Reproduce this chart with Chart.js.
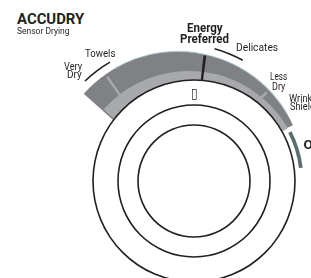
<!DOCTYPE html>
<html>
<head>
<meta charset="utf-8">
<script src="https://cdn.jsdelivr.net/npm/chart.js@4.4.1/dist/chart.umd.min.js"></script>
<style>
  html, body { margin: 0; padding: 0; background: #ffffff; }
  body { position: relative; width: 311px; height: 278px; overflow: hidden; }
  canvas { position: absolute; }
  .lbl { position: absolute; white-space: nowrap; line-height: 1; color: #231f20; transform-origin: 0 0; }
</style>
</head>
<body>
<script>
// ---------------- data (angles in degrees, clockwise from 12 o'clock) ----------------
const titleText = 'ACCUDRY';
const subtitleText = 'Sensor Drying';
const cycleLabels = [['Very', 'Dry'], ['Towels'], ['Energy', 'Preferred'], ['Delicates'], ['Less', 'Dry'], ['Wrinkle', 'Shield']];
const offLabel = 'Off';
const pointerGlyph = '\u25AF';

const bandSpan = [-48.2, 65.3];          // dark sensor-dry band
const edgeSpan = [-30, 60];              // pale rim along the band's outer edge
const innerBandSpan = [-48.6, 60.2];     // light inner band
const dividerAngles = [-35, 46];         // light dividers (Very Dry | Towels, Less Dry)
const selectorAngle = [7.0];             // Energy Preferred marker
const leaderSpans = [[-43.8, -30.4], [15.8, 28.8]];
const offSpan = [63, 83];
const dialCircles = [101, 76, 56];

// ---------------- styles / layout ----------------
const CLEAR = 'rgba(0,0,0,0)';
const INK = '#231f20', DARK = '#808184', LIGHT = '#a7a9ac', SLATE = '#5b6f70', PAPER = '#ffffff', RIM = 'rgba(170,200,202,0.75)';
const L = {
  band:     { c: [178, 178], r: 126.5, cut: 84 },
  rim:      { c: [178, 178], r: 127.2, cut: 126.0 },
  dividers: { c: [178, 178], r: 123.5, cut: 100, w: 1.2 },
  inner:    { c: [189, 185], r: 114, cut: 80 },
  selector: { c: [189, 185], r: 130.5, cut: 96, w: 1.2 },
  disc:     { c: [194, 181] },
  rings:    { c: [194, 181], lw: 1.6 },
  leaders:  { c: [178, 178], r: 135.2, cut: 133.6 },
  off:      { c: [194, 181], r: 109.5, cut: 105.8 }
};

function arcSet(intervals, color, weight) {
  const rot = intervals[0][0];
  const data = [], bg = [];
  let cur = rot;
  intervals.forEach(([s, e]) => {
    if (s > cur) { data.push(s - cur); bg.push(CLEAR); }
    data.push(e - s); bg.push(color); cur = e;
  });
  if (cur < rot + 360) { data.push(rot + 360 - cur); bg.push(CLEAR); }
  return { data, backgroundColor: bg, borderWidth: 0, rotation: rot, circumference: 360, weight: weight || 1 };
}

function layer(c, outer, inner, datasets) {
  const size = 2 * Math.ceil(outer) + 6;
  const cv = document.createElement('canvas');
  cv.width = size; cv.height = size;
  cv.style.width = size + 'px'; cv.style.height = size + 'px';
  cv.style.left = (c[0] - size / 2) + 'px';
  cv.style.top = (c[1] - size / 2) + 'px';
  document.body.appendChild(cv);
  return new Chart(cv, {
    type: 'doughnut',
    data: { datasets },
    options: {
      responsive: false, animation: false, devicePixelRatio: 1, events: [],
      radius: outer, cutout: (inner / outer * 100) + '%', spacing: 0,
      layout: { padding: 0 },
      plugins: { legend: { display: false }, tooltip: { enabled: false }, title: { display: false } }
    }
  });
}

// dark band
layer(L.band.c, L.band.r, L.band.cut, [arcSet([bandSpan], DARK)]);
// pale rim
layer(L.rim.c, L.rim.r, L.rim.cut, [arcSet([edgeSpan], RIM)]);
// light dividers
layer(L.dividers.c, L.dividers.r, L.dividers.cut,
  [arcSet(dividerAngles.map(a => [a - L.dividers.w / 2, a + L.dividers.w / 2]), LIGHT)]);
// light inner band
layer(L.inner.c, L.inner.r, L.inner.cut, [arcSet([innerBandSpan], LIGHT)]);
// selector marker
layer(L.selector.c, L.selector.r, L.selector.cut,
  [arcSet(selectorAngle.map(a => [a - L.selector.w / 2, a + L.selector.w / 2]), INK)]);
// white dial face
layer(L.disc.c, dialCircles[0], 0, [arcSet([[0, 360]], PAPER)]);
// dial circles
(function () {
  const lw = L.rings.lw, h = lw / 2;
  const ds = [];
  dialCircles.forEach((r, i) => {
    ds.push(arcSet([[0, 360]], INK, lw));
    if (i < dialCircles.length - 1) ds.push(arcSet([[0, 360]], CLEAR, (r - h) - (dialCircles[i + 1] + h)));
  });
  layer(L.rings.c, dialCircles[0] + h, dialCircles[dialCircles.length - 1] - h, ds);
})();
// leader arcs
layer(L.leaders.c, L.leaders.r, L.leaders.cut, [arcSet(leaderSpans, INK)]);
// Off arc
layer(L.off.c, L.off.r, L.off.cut, [arcSet([offSpan], SLATE)]);

// ---------------- text ----------------
const SANS = 'Roboto, "Liberation Sans", sans-serif';
const labelLayout = [
  { text: titleText, x: 17, top: 13.3, w: 68, size: 15, bold: true, align: 'left' },
  { text: subtitleText, x: 17, top: 27.3, w: 52.7, size: 8.6, align: 'left' },
  { text: cycleLabels[0][0], x: 82, top: 62.3, w: 18.3, size: 10, align: 'right' },
  { text: cycleLabels[0][1], x: 82, top: 70.7, w: 15, size: 10, align: 'right' },
  { text: cycleLabels[1][0], x: 85, top: 49.3, w: 30, size: 10.5, align: 'left' },
  { text: cycleLabels[2][0], x: 205, top: 22.5, w: 36.6, size: 12, bold: true, align: 'center' },
  { text: cycleLabels[2][1], x: 205, top: 33.4, w: 49.3, size: 12, bold: true, align: 'center' },
  { text: cycleLabels[3][0], x: 236, top: 43.3, w: 41.7, size: 10.5, align: 'left' },
  { text: cycleLabels[4][0], x: 278.5, top: 72.3, w: 17, size: 10, align: 'center' },
  { text: cycleLabels[4][1], x: 278.5, top: 82.3, w: 13.5, size: 10, align: 'center' },
  { text: cycleLabels[5][0], x: 288.5, top: 94.5, sx: 0.92, size: 10, align: 'left' },
  { text: cycleLabels[5][1], x: 290, top: 102.8, sx: 0.92, size: 10, align: 'left' },
  { text: offLabel, x: 303.5, top: 139.5, sx: 1, size: 13.5, bold: true, align: 'left' },
  { text: pointerGlyph, x: 192, top: 88, w: 5, h: 12, size: 12, align: 'left', family: '"DejaVu Sans", sans-serif' }
];

const mctx = document.createElement('canvas').getContext('2d');
labelLayout.forEach(o => {
  const fam = o.family || SANS;
  const wt = o.bold ? 'bold ' : '';
  let size = o.size;
  mctx.font = wt + size + 'px ' + fam;
  let m = mctx.measureText(o.text);
  if (o.h) {
    const inkH = m.actualBoundingBoxAscent + m.actualBoundingBoxDescent;
    size = size * o.h / inkH;
    mctx.font = wt + size + 'px ' + fam;
    m = mctx.measureText(o.text);
  }
  const inkW = m.actualBoundingBoxLeft + m.actualBoundingBoxRight;
  const sx = o.w ? o.w / inkW : (o.sx || 1);
  const fa = m.fontBoundingBoxAscent, fd = m.fontBoundingBoxDescent;
  const halfLead = (size - (fa + fd)) / 2;
  const top = o.top + m.actualBoundingBoxAscent - (halfLead + fa);
  let left;
  if (o.align === 'left') left = o.x + sx * m.actualBoundingBoxLeft;
  else if (o.align === 'right') left = o.x - sx * m.actualBoundingBoxRight;
  else left = o.x - sx * (m.actualBoundingBoxRight - m.actualBoundingBoxLeft) / 2;
  const d = document.createElement('div');
  d.className = 'lbl';
  d.textContent = o.text;
  d.style.font = wt + size + 'px ' + fam;
  d.style.lineHeight = size + 'px';
  d.style.left = left + 'px';
  d.style.top = top + 'px';
  d.style.transform = 'scaleX(' + sx + ')';
  document.body.appendChild(d);
});
</script>
</body>
</html>
